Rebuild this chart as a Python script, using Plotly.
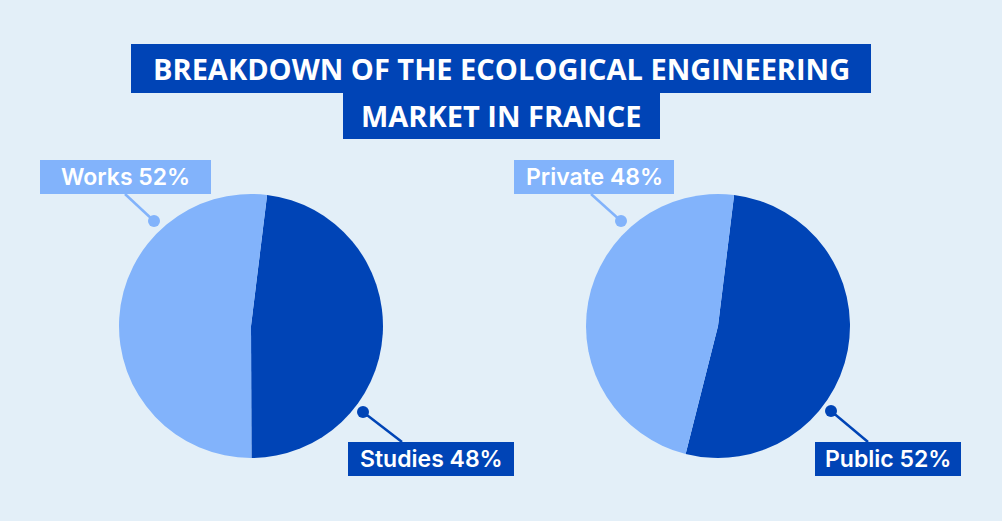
import plotly.graph_objects as go

# data
scope_labels = ["Studies", "Works"]
scope_values = [48, 52]
client_labels = ["Public", "Private"]
client_values = [52, 48]

title_lines = ["BREAKDOWN OF THE ECOLOGICAL ENGINEERING", "MARKET IN FRANCE"]

W, H = 1002, 521
BG = "#e3eff8"
DARK = "#0044b6"
LIGHT = "#82b3fb"


def px(x):
    return x / W


def py(y):
    return 1 - y / H


def pie_domain(cx, cy, r):
    return dict(x=[px(cx - r), px(cx + r)], y=[py(cy + r), py(cy - r)])


fig = go.Figure()

fig.add_trace(go.Pie(
    labels=scope_labels, values=scope_values,
    domain=pie_domain(251, 326, 132),
    sort=False, direction="clockwise", rotation=7,
    marker=dict(colors=[DARK, LIGHT], line=dict(width=0)),
    textinfo="none", hoverinfo="label+percent", showlegend=False,
))
fig.add_trace(go.Pie(
    labels=client_labels, values=client_values,
    domain=pie_domain(718, 326, 132),
    sort=False, direction="clockwise", rotation=7,
    marker=dict(colors=[DARK, LIGHT], line=dict(width=0)),
    textinfo="none", hoverinfo="label+percent", showlegend=False,
))

shapes = []
annotations = []

# title boxes
title_boxes = [(131, 44, 871, 93), (343, 93, 660, 139)]
for (x0, y0, x1, y1), line in zip(title_boxes, title_lines):
    shapes.append(dict(type="rect", xref="paper", yref="paper",
                       x0=px(x0), x1=px(x1), y0=py(y1), y1=py(y0),
                       fillcolor=DARK, line=dict(width=0), layer="above"))
    annotations.append(dict(xref="paper", yref="paper",
                            x=px((x0 + x1) / 2), y=py((y0 + y1) / 2),
                            text=line, showarrow=False,
                            xanchor="center", yanchor="middle",
                            font=dict(family="Open Sans", size=29, color="white", weight=700)))

# slice callouts: box, leader end on box, dot
callouts = [
    (scope_labels[1], scope_values[1], LIGHT, (40, 160, 211, 194), (125, 194), (154, 221)),
    (scope_labels[0], scope_values[0], DARK, (348, 442, 514, 476), (402, 442), (363, 412)),
    (client_labels[1], client_values[1], LIGHT, (514, 160, 674, 194), (591, 194), (621, 221)),
    (client_labels[0], client_values[0], DARK, (815, 442, 961, 476), (868, 442), (831, 411)),
]
for name, val, col, (x0, y0, x1, y1), (lx, ly), (dx, dy) in callouts:
    shapes.append(dict(type="line", xref="paper", yref="paper",
                       x0=px(lx), y0=py(ly), x1=px(dx), y1=py(dy),
                       line=dict(color=col, width=2.5)))
    shapes.append(dict(type="circle", xref="paper", yref="paper",
                       x0=px(dx - 6), x1=px(dx + 6), y0=py(dy + 6), y1=py(dy - 6),
                       fillcolor=col, line=dict(width=0)))
    shapes.append(dict(type="rect", xref="paper", yref="paper",
                       x0=px(x0), x1=px(x1), y0=py(y1), y1=py(y0),
                       fillcolor=col, line=dict(width=0)))
    annotations.append(dict(xref="paper", yref="paper",
                            x=px((x0 + x1) / 2), y=py((y0 + y1) / 2),
                            text=f"{name} {val}%", showarrow=False,
                            xanchor="center", yanchor="middle",
                            font=dict(family="Inter", size=23, color="white", weight=600)))

fig.update_layout(
    width=W, height=H,
    margin=dict(l=0, r=0, t=0, b=0),
    paper_bgcolor=BG, plot_bgcolor=BG,
    shapes=shapes, annotations=annotations,
)

# drop the browser's default page margin so the figure sits at the corner
fig.write_html("out.html",
               config={"displayModeBar": False},
               post_script="document.body.style.margin='0';"
                           "document.body.style.background='" + BG + "';")
